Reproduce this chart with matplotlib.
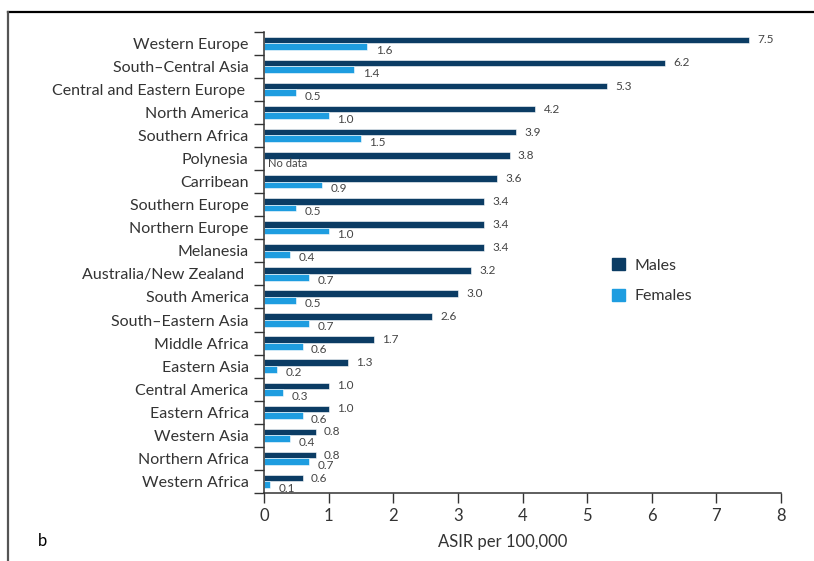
import numpy as np
import matplotlib.pyplot as plt
import matplotlib
from matplotlib.lines import Line2D
from matplotlib.patches import Patch

matplotlib.rcParams['font.family'] = ['Lato', 'DejaVu Sans']
matplotlib.rcParams['font.weight'] = 'normal'

# ASIR per 100,000 by region
regions = ["Western Europe", "South–Central Asia", "Central and Eastern Europe ",
           "North America", "Southern Africa", "Polynesia", "Carribean",
           "Southern Europe", "Northern Europe", "Melanesia",
           "Australia/New Zealand ", "South America", "South–Eastern Asia",
           "Middle Africa", "Eastern Asia", "Central America", "Eastern Africa",
           "Western Asia", "Northern Africa", "Western Africa"]
males = [7.5, 6.2, 5.3, 4.2, 3.9, 3.8, 3.6, 3.4, 3.4, 3.4,
         3.2, 3.0, 2.6, 1.7, 1.3, 1.0, 1.0, 0.8, 0.8, 0.6]
females = [1.6, 1.4, 0.5, 1.0, 1.5, None, 0.9, 0.5, 1.0, 0.4,
           0.7, 0.5, 0.7, 0.6, 0.2, 0.3, 0.6, 0.4, 0.7, 0.1]

c_male = "#0b3c64"
c_female = "#1e9de0"
txt = "#333333"

fig = plt.figure(figsize=(8.14, 5.61), dpi=100)
ax = fig.add_axes([264 / 814, 68 / 561, 517 / 814, 461.3 / 561])

y = np.arange(len(regions))
h = 0.29
fem_vals = [v if v is not None else 0 for v in females]
ax.barh(y - h / 2, males, height=h, color=c_male, edgecolor="white", linewidth=0.4)
ax.barh(y + h / 2, fem_vals, height=h, color=c_female, edgecolor="white", linewidth=0.4)

for i, (m, f) in enumerate(zip(males, females)):
    ax.annotate(f"{m:.1f}", (m, i - h / 2), xytext=(6, 0), textcoords="offset points",
                va="center", ha="left", fontsize=8.5, color="#444444")
    if f is None:
        ax.annotate("No data", (0, i + h / 2), xytext=(3, -1), textcoords="offset points",
                    va="center", ha="left", fontsize=8, color="#444444")
    else:
        ax.annotate(f"{f:.1f}", (f, i + h / 2), xytext=(6, -2.5), textcoords="offset points",
                    va="center", ha="left", fontsize=8.5, color="#444444")

ax.set_xlim(0, 8)
ax.set_ylim(len(regions) - 0.5, -0.5)
ax.set_xticks(range(0, 9))
ax.tick_params(axis="x", labelsize=12, colors=txt, length=7, width=1, pad=4)

ax.set_yticks(y)
ax.set_yticklabels(regions, fontsize=11.5, color=txt)
ax.set_yticks(np.arange(-0.5, len(regions)), minor=True)
ax.tick_params(axis="y", which="major", length=0, pad=11)
ax.tick_params(axis="y", which="minor", length=7, width=1, color=txt)

for s in ["top", "right"]:
    ax.spines[s].set_visible(False)
for s in ["left", "bottom"]:
    ax.spines[s].set_color(txt)
    ax.spines[s].set_linewidth(1.1)

ax.set_xlabel("ASIR per 100,000", fontsize=12, color=txt, x=(503 - 264) / 517, labelpad=7)

handles = [Patch(color=c_male, label="Males"), Patch(color=c_female, label="Females")]
ax.legend(handles=handles, loc="center left", bbox_to_anchor=(0.645, 0.46), frameon=False,
          fontsize=11.5, handlelength=0.8, handleheight=0.8, labelspacing=1.0,
          handletextpad=0.6, labelcolor=txt)

fig.text(38 / 814, 1 - 541 / 561, "b", fontsize=12, color="black", va="center")

# frame around the panel
fig.add_artist(Line2D([8 / 814, 1], [1 - 12 / 561] * 2, color="black", lw=1.6))
fig.add_artist(Line2D([8 / 814] * 2, [0, 1 - 12 / 561], color="#555555", lw=1.6))

fig.savefig("out.png", dpi=100)
